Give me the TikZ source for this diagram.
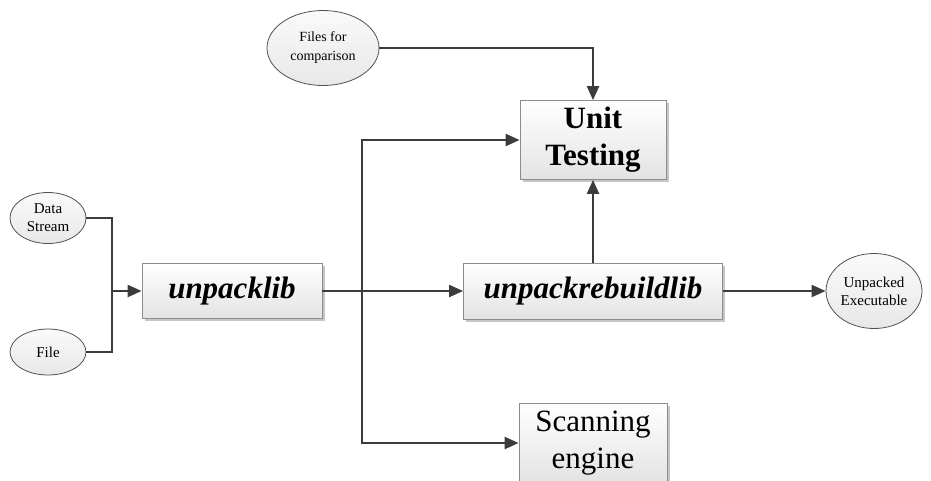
\documentclass[tikz,border=0pt]{standalone}
\usepackage{fontspec}
\setmainfont{Liberation Serif}
\usetikzlibrary{arrows.meta,shapes.geometric,shadows}
\definecolor{linegray}{HTML}{3C3C3C}
\definecolor{boxedge}{HTML}{8C8C8C}
\definecolor{ovaledge}{HTML}{505050}
\tikzset{
  x=1pt, y=-1pt,
  procbox/.style={rectangle, draw=boxedge, line width=0.8pt,
    top color=white, bottom color=gray!22,
    drop shadow={shadow xshift=2.5pt, shadow yshift=-2.5pt, fill=gray!45, opacity=1},
    align=center, inner sep=0pt, font=\fontsize{31}{37}\selectfont},
  oval/.style={ellipse, draw=ovaledge, line width=0.8pt,
    top color=gray!4, bottom color=gray!18,
    align=center, inner sep=0pt, font=\fontsize{15}{18}\selectfont},
  flow/.style={draw=linegray, line width=2.2pt},
  arr/.style={flow, -{Triangle[length=14pt,width=12pt]}},
}
\begin{document}
\begin{tikzpicture}
\useasboundingbox (0,0) rectangle (931,480);
\clip (0,0) rectangle (931,480);

% input sources
\node[oval, minimum width=76pt, minimum height=51pt] (ds) at (48,218) {Data\\Stream};
\node[oval, minimum width=76pt, minimum height=46pt] (fi) at (48,352) {File};
\node[oval, minimum width=112pt, minimum height=75pt, font=\fontsize{14}{19}\selectfont] (fc) at (323,48) {Files for\\comparison};
\node[oval, minimum width=96pt, minimum height=75pt] (ue) at (874,291) {Unpacked\\Executable};

% processing blocks
\node[procbox, minimum width=180pt, minimum height=55pt, font=\fontsize{31}{37}\selectfont\bfseries\itshape] (ul) at (232,291) {unpacklib};
\node[procbox, minimum width=259pt, minimum height=56pt, font=\fontsize{31}{37}\selectfont\bfseries\itshape] (urb) at (593,291) {unpackrebuildlib};
\node[procbox, minimum width=146pt, minimum height=79pt, font=\fontsize{31}{37}\selectfont\bfseries] (ut) at (593,140) {Unit\\Testing};
\node[procbox, minimum width=148pt, minimum height=80pt] (se) at (593,443) {Scanning\\engine};

% junction points
\coordinate (jin) at (112,291);
\coordinate (split) at (362,291);

% connectors
\draw[flow] (ds.east) -| (jin);
\draw[flow] (fi.east) -| (jin);
\draw[arr] (jin) -- (ul.west);
\draw[flow] (ul.east) -- (split);
\draw[arr] (split) -- (urb.west);
\draw[arr] (split) |- (ut.west);
\draw[arr] (split) |- (se.west);
\draw[arr] (fc.east) -| (ut.north);
\draw[arr] (urb.north) -- (ut.south);
\draw[arr] (urb.east) -- (ue.west);
\end{tikzpicture}
\end{document}
